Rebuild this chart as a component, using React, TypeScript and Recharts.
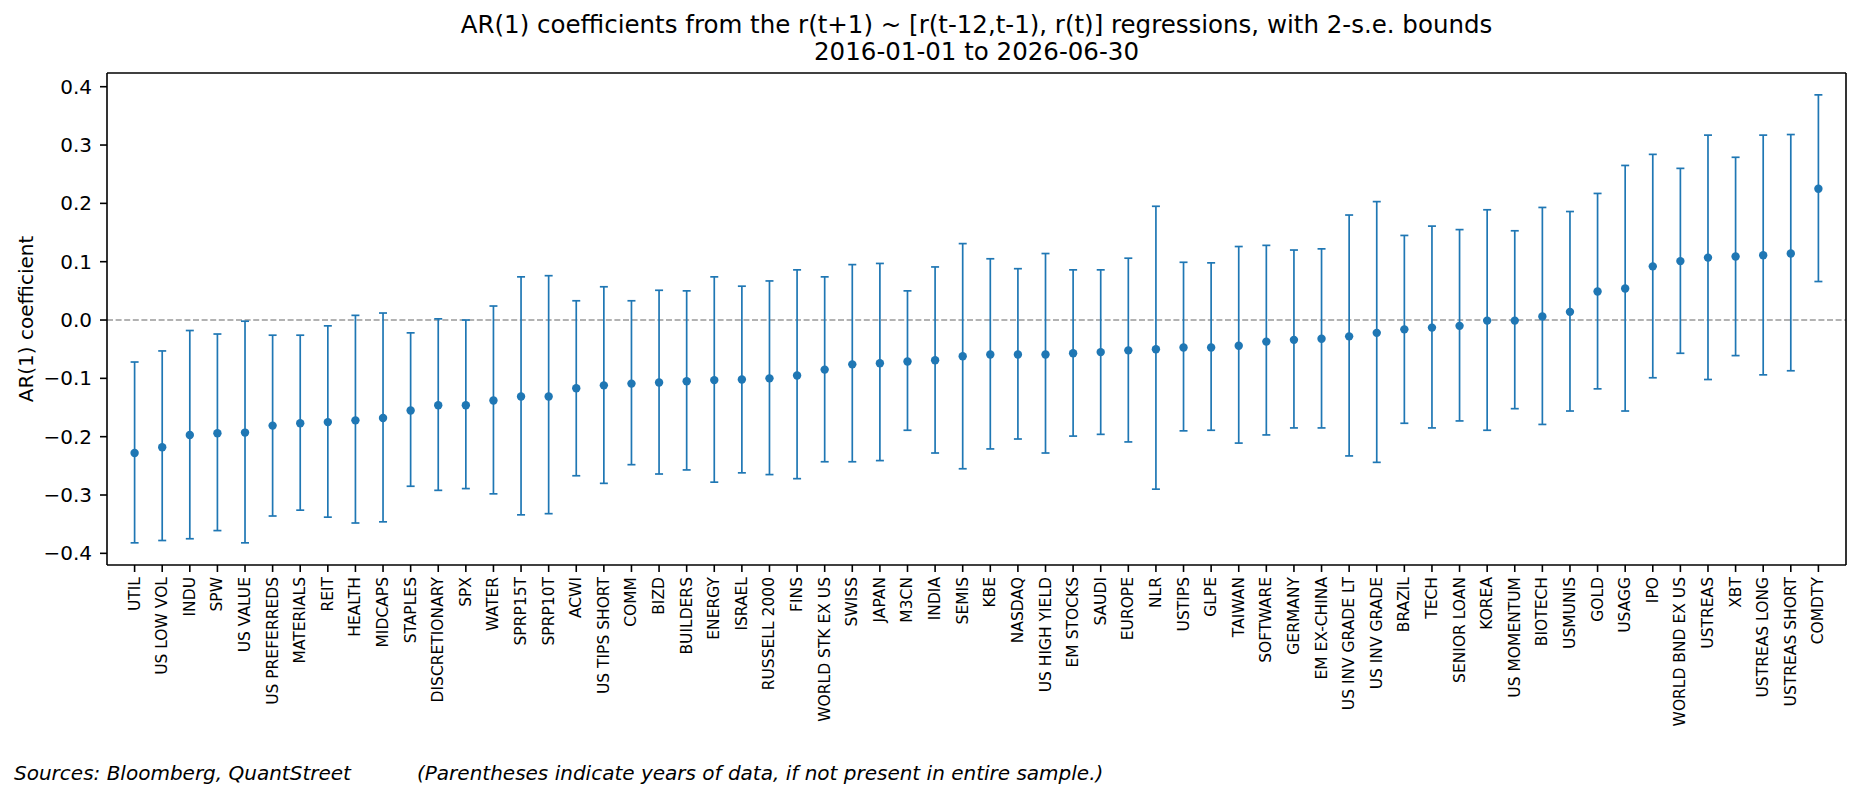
/**
 * App.tsx -- AR(1) coefficients with 2-s.e. bounds, one point per asset.
 *
 * A matplotlib-style errorbar chart redrawn with a Recharts ScatterChart:
 * the x axis is the asset index (0..61) labelled with the asset name,
 * each point carries asymmetric error bars (lower / upper bound).
 */

import { ScatterChart, Scatter, XAxis, YAxis, ErrorBar, ReferenceLine } from 'recharts';

const FONT = '"DejaVu Sans", sans-serif';
const BLUE = '#1f77b4';

// Asset names in plotted (sorted) order.
const NAMES = [
  'UTIL', 'US LOW VOL', 'INDU', 'SPW', 'US VALUE', 'US PREFERREDS', 'MATERIALS', 'REIT',
  'HEALTH', 'MIDCAPS', 'STAPLES', 'DISCRETIONARY', 'SPX', 'WATER', 'SPRP15T', 'SPRP10T',
  'ACWI', 'US TIPS SHORT', 'COMM', 'BIZD', 'BUILDERS', 'ENERGY', 'ISRAEL', 'RUSSELL 2000',
  'FINS', 'WORLD STK EX US', 'SWISS', 'JAPAN', 'M3CN', 'INDIA', 'SEMIS', 'KBE',
  'NASDAQ', 'US HIGH YIELD', 'EM STOCKS', 'SAUDI', 'EUROPE', 'NLR', 'USTIPS', 'GLPE',
  'TAIWAN', 'SOFTWARE', 'GERMANY', 'EM EX-CHINA', 'US INV GRADE LT', 'US INV GRADE', 'BRAZIL', 'TECH',
  'SENIOR LOAN', 'KOREA', 'US MOMENTUM', 'BIOTECH', 'USMUNIS', 'GOLD', 'USAGG', 'IPO',
  'WORLD BND EX US', 'USTREAS', 'XBT', 'USTREAS LONG', 'USTREAS SHORT', 'COMDTY',
];

// Point estimates of the AR(1) coefficient.
const COEF = [
  -0.228, -0.218, -0.197, -0.194, -0.193, -0.181, -0.177, -0.175,
  -0.172, -0.168, -0.155, -0.146, -0.146, -0.138, -0.131, -0.131,
  -0.117, -0.112, -0.109, -0.107, -0.105, -0.103, -0.102, -0.100,
  -0.095, -0.085, -0.076, -0.074, -0.071, -0.069, -0.062, -0.059,
  -0.059, -0.059, -0.057, -0.055, -0.052, -0.050, -0.047, -0.047,
  -0.044, -0.037, -0.034, -0.032, -0.028, -0.022, -0.016, -0.013,
  -0.010, -0.001, -0.001, 0.006, 0.014, 0.049, 0.054, 0.092,
  0.101, 0.107, 0.109, 0.111, 0.114, 0.225,
];

// Lower 2-s.e. bound.
const LOWER = [
  -0.382, -0.378, -0.375, -0.361, -0.382, -0.336, -0.326, -0.338,
  -0.348, -0.346, -0.285, -0.292, -0.289, -0.298, -0.334, -0.332,
  -0.267, -0.280, -0.248, -0.264, -0.257, -0.278, -0.262, -0.265,
  -0.272, -0.243, -0.243, -0.241, -0.189, -0.228, -0.255, -0.221,
  -0.204, -0.228, -0.199, -0.196, -0.209, -0.290, -0.190, -0.189,
  -0.211, -0.197, -0.185, -0.185, -0.233, -0.244, -0.177, -0.185,
  -0.173, -0.189, -0.152, -0.179, -0.156, -0.118, -0.156, -0.099,
  -0.057, -0.102, -0.061, -0.094, -0.087, 0.066,
];

// Upper 2-s.e. bound.
const UPPER = [
  -0.072, -0.053, -0.018, -0.024, -0.002, -0.026, -0.026, -0.010,
  0.008, 0.012, -0.022, 0.002, 0.000, 0.024, 0.074, 0.076,
  0.033, 0.057, 0.033, 0.051, 0.050, 0.074, 0.058, 0.067,
  0.086, 0.074, 0.095, 0.097, 0.050, 0.091, 0.131, 0.105,
  0.088, 0.114, 0.086, 0.086, 0.106, 0.195, 0.099, 0.098,
  0.126, 0.128, 0.120, 0.122, 0.180, 0.203, 0.145, 0.161,
  0.155, 0.189, 0.153, 0.193, 0.186, 0.217, 0.265, 0.284,
  0.260, 0.317, 0.279, 0.317, 0.318, 0.386,
];

const Y_TICKS = [-0.4, -0.3, -0.2, -0.1, 0, 0.1, 0.2, 0.3, 0.4];
const X_TICKS = NAMES.map((_, i) => i);

// Recharts wants [below, above] distances for asymmetric error bars.
const points = NAMES.map((name, i) => ({
  idx: i,
  name,
  coef: COEF[i],
  err: [COEF[i] - LOWER[i], UPPER[i] - COEF[i]],
}));

const Y_DOMAIN: [number, number] = [-0.42, 0.4235];
const X_DOMAIN: [number, number] = [-1, 62];

// Rotated asset name below each x tick.
function NameTick(props: any) {
  const { x, y, payload } = props;
  return (
    <text
      x={x}
      y={y}
      transform={`rotate(-90, ${x}, ${y})`}
      textAnchor="end"
      dominantBaseline="central"
      fontSize={15.5}
      fontFamily={FONT}
      fill="#000"
    >
      {NAMES[payload.value]}
    </text>
  );
}

function Dot(props: any) {
  return <circle cx={props.cx} cy={props.cy} r={4.2} fill={BLUE} />;
}

const fmtY = (v: number) => v.toFixed(1).replace('-', '\u2212');

const SPINE = { stroke: '#000', strokeWidth: 1.6 };

export default function App() {
  return (
    <div style={{ position: 'absolute', left: 0, top: 0, width: 1860, height: 795, background: '#fff', fontFamily: FONT }}>

      {/* ------- Title (two lines, centred over the plot area) ------- */}
      <div style={{ position: 'absolute', left: 107, width: 1739, top: 12, textAlign: 'center', fontSize: 24.5, lineHeight: '26.5px', color: '#000' }}>
        AR(1) coefficients from the r(t+1) ~ [r(t-12,t-1), r(t)] regressions, with 2-s.e. bounds
        <br />
        2016-01-01 to 2026-06-30
      </div>

      {/* ------- Y axis label ------- */}
      <div style={{ position: 'absolute', left: 26, top: 319, transform: 'translate(-50%, -50%) rotate(-90deg)', whiteSpace: 'nowrap', fontSize: 20, color: '#000' }}>
        AR(1) coefficient
      </div>

      <ScatterChart width={1860} height={795} margin={{ top: 73, right: 14, bottom: 70, left: 37 }}>
        <XAxis
          type="number"
          dataKey="idx"
          domain={X_DOMAIN}
          ticks={X_TICKS}
          interval={0}
          allowDataOverflow
          height={160}
          axisLine={SPINE}
          tickLine={SPINE}
          tickSize={7}
          tickMargin={5}
          tick={<NameTick />}
        />
        <YAxis
          type="number"
          dataKey="coef"
          domain={Y_DOMAIN}
          ticks={Y_TICKS}
          allowDataOverflow
          width={70}
          axisLine={SPINE}
          tickLine={SPINE}
          tickSize={7}
          tickMargin={8}
          tickFormatter={fmtY}
          tick={{ fontSize: 20, fill: '#000', fontFamily: FONT }}
        />

        {/* Zero reference line */}
        <ReferenceLine y={0} stroke="#999" strokeWidth={1.6} strokeDasharray="6 2.6" />

        <Scatter data={points} dataKey="coef" fill={BLUE} shape={<Dot />} isAnimationActive={false}>
          <ErrorBar dataKey="err" direction="y" width={4} stroke={BLUE} strokeWidth={1.7} isAnimationActive={false} />
        </Scatter>

        {/* Top and right spines */}
        <ReferenceLine y={Y_DOMAIN[1]} stroke="#000" strokeWidth={1.6} ifOverflow="visible" />
        <ReferenceLine x={X_DOMAIN[1]} stroke="#000" strokeWidth={1.6} ifOverflow="visible" />
      </ScatterChart>

      {/* ------- Footnotes ------- */}
      <div style={{ position: 'absolute', left: 14, top: 761, fontSize: 20, lineHeight: '24px', fontStyle: 'italic', color: '#000', whiteSpace: 'nowrap' }}>
        Sources: Bloomberg, QuantStreet
      </div>
      <div style={{ position: 'absolute', left: 417, top: 761, fontSize: 20, lineHeight: '24px', fontStyle: 'italic', color: '#000', whiteSpace: 'nowrap' }}>
        (Parentheses indicate years of data, if not present in entire sample.)
      </div>
    </div>
  );
}
